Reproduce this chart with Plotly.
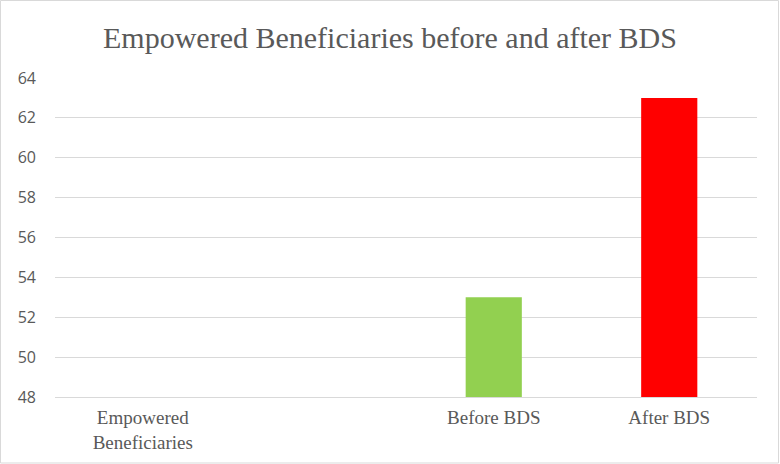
import plotly.graph_objects as go

categories = ["Empowered<br>Beneficiaries", " ", "Before BDS", "After BDS"]
values = [None, None, 53, 63]
bar_colors = ["#92D050", "#92D050", "#92D050", "#FF0000"]
y_ticks = [48, 50, 52, 54, 56, 58, 60, 62, 64]

W, H = 780, 464
ml, mr, mt, mb = 55, 23, 78, 67
pw, ph = W - ml - mr, H - mt - mb
SERIF = "Liberation Serif"

fig = go.Figure(go.Bar(x=categories, y=values, marker_color=bar_colors,
                       marker_line_width=0, hoverinfo="skip"))

def px_x(p):
    return (p - ml) / pw

def px_y(p):
    return (H - mb - p) / ph

fig.update_layout(
    width=W, height=H,
    margin=dict(l=ml, r=mr, t=mt, b=mb),
    paper_bgcolor="white", plot_bgcolor="white",
    bargap=0.68,
    showlegend=False,
    title=dict(text="Empowered Beneficiaries before and after BDS",
               x=0.5, xanchor="center", y=1 - 37 / H, yanchor="middle",
               font=dict(family=SERIF, size=30, color="#595959")),
    xaxis=dict(type="category", showgrid=False, showline=True, linecolor="#d9d9d9",
               linewidth=1, ticks="", tickfont=dict(family=SERIF, size=19, color="#595959"),
               ticklabelstandoff=3),
    yaxis=dict(range=[48, 64], tickvals=y_ticks, showgrid=True, gridcolor="#d9d9d9",
               gridwidth=1, zeroline=False, showline=False, ticks="",
               tickfont=dict(family="Open Sans", size=16, color="#595959"),
               ticklabelstandoff=18),
    shapes=[dict(type="rect", xref="paper", yref="paper",
                 x0=px_x(0.5), x1=px_x(778.5), y0=px_y(463), y1=px_y(0.5),
                 line=dict(color="#d9d9d9", width=1), fillcolor="rgba(0,0,0,0)", layer="below")],
)

fig.write_html("out.html")
